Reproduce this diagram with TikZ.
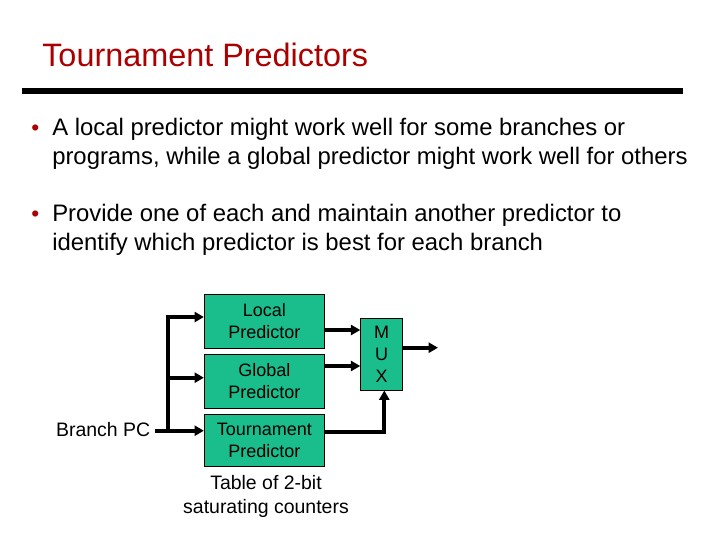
\documentclass[tikz,border=0pt]{standalone}
\usepackage{fontspec}
\setmainfont{Liberation Sans}
\usetikzlibrary{arrows.meta}
\definecolor{titlered}{RGB}{170,0,0}
\definecolor{boxgreen}{RGB}{26,190,140}
\begin{document}
\begin{tikzpicture}[x=0.75pt,y=-0.75pt,
  predbox/.style={draw=black,line width=0.6pt,fill=boxgreen,minimum width=90pt,inner sep=0pt,align=center,font=\fontsize{13.5}{16.5}\selectfont},
  wire/.style={line width=3pt,-{Triangle[length=7pt,width=7.5pt]}},
  plainwire/.style={line width=3pt},
  bodytext/.style={anchor=base west,inner sep=0pt,font=\fontsize{17.9}{20}\selectfont},
  bullettext/.style={anchor=base west,inner sep=0pt,text=titlered,font=\fontsize{17}{20}\selectfont},
  smalltext/.style={inner sep=0pt,font=\fontsize{14.6}{18}\selectfont}]
\useasboundingbox (0,0) rectangle (720,540);
\fill[white] (0,0) rectangle (720,540);
% title
\node[anchor=base west,inner sep=0pt,text=titlered,font=\fontsize{24.3}{28}\selectfont] (title) at (42,66) {Tournament Predictors};
\fill[black] (22,87.5) rectangle (683,93.5);
% bullets
\node[bullettext] (b1) at (31,135) {\textbullet};
\node[bodytext] (l1) at (52,135) {A local predictor might work well for some branches or};
\node[bodytext] (l2) at (52,164) {programs, while a global predictor might work well for others};
\node[bullettext] (b2) at (31,221) {\textbullet};
\node[bodytext] (l3) at (52,221) {Provide one of each and maintain another predictor to};
\node[bodytext] (l4) at (52,250) {identify which predictor is best for each branch};
% boxes
\node[predbox,minimum height=40.5pt] (local) at (264.3,321.3) {Local\\Predictor};
\node[predbox,minimum height=40.5pt] (global) at (264.3,381.3) {Global\\Predictor};
\node[predbox,minimum height=38.7pt] (tour) at (264.3,440.2) {Tournament\\Predictor};
\node[draw=black,line width=0.6pt,fill=boxgreen,minimum width=31.2pt,minimum height=53.8pt,inner sep=0pt,align=center,font=\fontsize{13.5}{16.5}\selectfont] (mux) at (381.5,354.2) {M\\U\\X};
% labels
\node[smalltext,anchor=east] (bpc) at (150.5,430) {Branch PC};
\node[smalltext,align=center] (tbl) at (266,496) {Table of 2-bit\\saturating counters};
% connectors
\coordinate (split) at (167.7,430.7);
\coordinate (top) at (167.7,317);
\coordinate (mid) at (167.7,377.7);
\coordinate (start) at (155,430.7);
\draw[wire] (start) -- (tour.west |- split);
\draw[plainwire] (split) -- ([yshift=-1.5pt]top);
\draw[wire] ([xshift=-1.5pt]top) -- (local.west |- top);
\draw[wire] (mid) -- (global.west |- mid);
\draw[wire] (local.east |- 0,330) -- (mux.west |- 0,330);
\draw[wire] (global.east |- 0,366) -- (mux.west |- 0,366);
\draw[wire] (tour.east |- 0,431.7) -| (mux.south -| 384.3,0);
\draw[wire] (mux.east |- 0,347.7) -- (438,347.7);
\end{tikzpicture}
\end{document}
